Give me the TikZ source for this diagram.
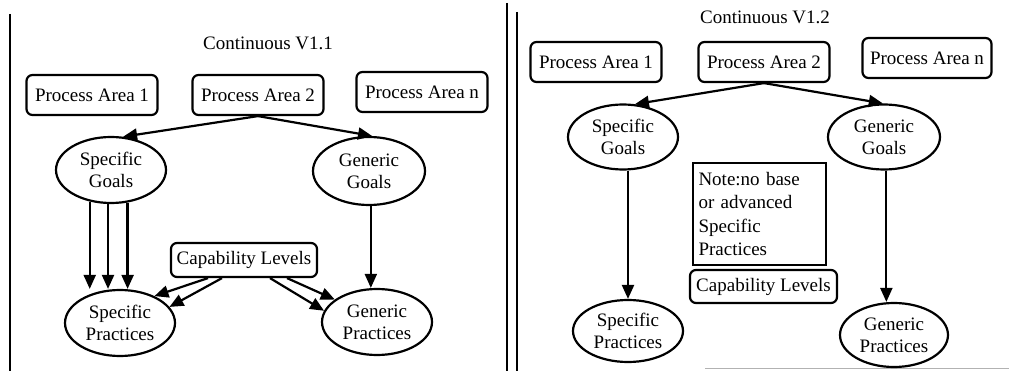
\documentclass[tikz,border=0pt]{standalone}
\usepackage{fontspec}
\setmainfont{Liberation Serif}
\usetikzlibrary{arrows.meta,shapes.geometric,calc}
\begin{document}
\begin{tikzpicture}[x=1pt,y=-1pt,
  txt/.style={font=\fontsize{19}{22}\selectfont,inner sep=0pt},
  pabox/.style={txt,draw,line width=2.2pt,rounded corners=6pt,minimum width=131pt,minimum height=40pt},
  capbox/.style={txt,draw,line width=2.2pt,rounded corners=6pt,minimum width=146pt,minimum height=34pt},
  oval/.style={txt,draw,ellipse,line width=2.2pt,align=center,minimum width=110pt,minimum height=66pt},
  notebox/.style={draw,line width=2.2pt,inner sep=0pt,minimum width=133pt,minimum height=102pt,
    text width=122pt,align=left,font=\fontsize{19}{23.5}\selectfont},
  arr/.style={line width=2.2pt,-{Triangle[length=14pt,width=12pt]}},
  rule/.style={line width=2.2pt},
  title/.style={font=\fontsize{19}{22}\selectfont,inner sep=0pt}]
\useasboundingbox (0,0) rectangle (1009,371);

% frame lines
\coordinate (lt) at (10,14);  \coordinate (lb) at (10,371);
\coordinate (r1t) at (507,3); \coordinate (r1b) at (507,371);
\coordinate (r2t) at (517,12); \coordinate (r2b) at (517,371);
\coordinate (bl) at (705,368); \coordinate (br) at (1009,368);
\draw[rule] (lt) -- (lb);
\draw[rule] (r1t) -- (r1b);
\draw[rule] (r2t) -- (r2b);
\draw[gray!60,line width=1pt] (bl) -- (br);

% ---------- left: Continuous V1.1 ----------
\node[title] (t1) at (268,43) {Continuous V1.1};
\node[pabox] (pa1L) at (92,95) {Process Area 1};
\node[pabox] (pa2L) at (258,95) {Process Area 2};
\node[pabox] (panL) at (422,92) {Process Area n};
\node[oval] (sgL) at (111,170) {Specific\\Goals};
\node[oval,minimum width=112pt,minimum height=68pt] (ggL) at (369,171) {Generic\\Goals};
\node[capbox] (capL) at (244,260) {Capability Levels};
\node[oval] (spL) at (120,323) {Specific\\Practices};
\node[oval] (gpL) at (377,322) {Generic\\Practices};

\draw[arr] (pa2L.south) -- (sgL.70);
\draw[arr] (pa2L.south) -- (ggL.85);
\draw[arr] (sgL.236) -- (sgL.236 |- spL.north);
\draw[arr] (sgL.265) -- (sgL.265 |- spL.north);
\draw[arr] (sgL.297) -- (sgL.297 |- spL.north);
\draw[arr] (ggL.273) -- (ggL.273 |- gpL.north);
\draw[arr] ([xshift=-36pt]capL.south) -- (spL.38);
\draw[arr] ([xshift=-22pt]capL.south) -- (spL.18);
\draw[arr] ([xshift=26pt]capL.south) -- (gpL.168);
\draw[arr] ([xshift=43pt]capL.south) -- (gpL.152);

% ---------- right: Continuous V1.2 ----------
\node[title] (t2) at (765,17) {Continuous V1.2};
\node[pabox] (pa1R) at (596,62) {Process Area 1};
\node[pabox] (pa2R) at (764,62) {Process Area 2};
\node[pabox,minimum width=129pt] (panR) at (927,58) {Process Area n};
\node[oval,minimum height=65pt] (sgR) at (623,137) {Specific\\Goals};
\node[oval,minimum width=112pt,minimum height=65pt] (ggR) at (884,137) {Generic\\Goals};
\node[notebox] (noteR) at (759.5,214) {Note:no base\\or advanced\\Specific\\Practices};
\node[capbox,minimum width=147pt,minimum height=33pt] (capR) at (763.5,286.5) {Capability Levels};
\node[oval,minimum height=62pt] (spR) at (628,331) {Specific\\Practices};
\node[oval,minimum width=108pt,minimum height=64pt] (gpR) at (894,335) {Generic\\Practices};

\draw[arr] (pa2R.south) -- (sgR.70);
\draw[arr] (pa2R.south) -- (ggR.92);
\draw[arr] (spR.north |- sgR.south) -- (spR.north);
\draw[arr] (ggR.274) -- (ggR.274 |- gpR.north);
\end{tikzpicture}
\end{document}
